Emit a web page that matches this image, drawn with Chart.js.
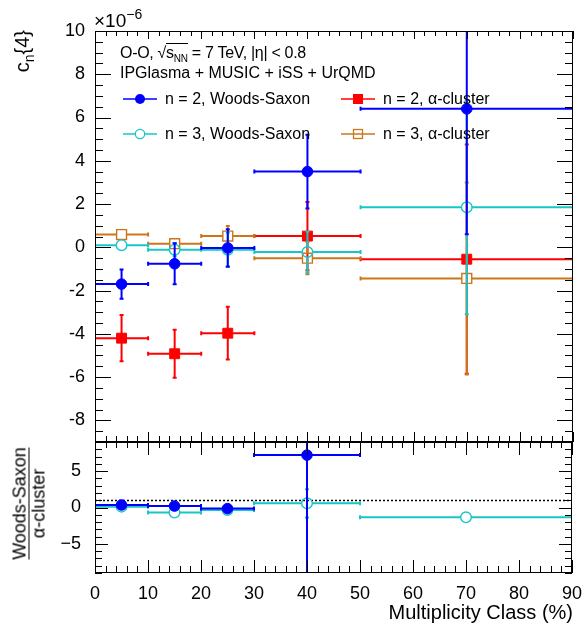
<!DOCTYPE html>
<html>
<head>
<meta charset="utf-8">
<title>cn{4} O-O</title>
<script src="https://cdn.jsdelivr.net/npm/chart.js@4.4.1/dist/chart.umd.min.js"></script>
<style>
  body { margin: 0; background: #fff; }
  #wrap { position: relative; width: 584px; height: 624px; font-family: "Liberation Sans", Arial, sans-serif; color: #000; }
  #wrap canvas { position: absolute; left: 0; top: 0; }
  .lbl { position: absolute; white-space: nowrap; font-size: 16px; line-height: 16px; }
  .mark { position: absolute; }
</style>
</head>
<body>
<div id="wrap">
  <canvas id="topChart" width="584" height="624"></canvas>
  <canvas id="ratioChart" width="584" height="624"></canvas>

  <div class="lbl" style="left:94px; top:11px; font-size:19px; line-height:19px;">×10<span style="font-size:14px; position:relative; top:-8px;">−6</span></div>

  <div class="lbl" style="left:120px; top:45px; letter-spacing:-0.3px;">O-O, √<span style="border-top:1px solid #000;">s<span style="font-size:10px; position:relative; top:4px;">NN</span></span> = 7 TeV, |η| &lt; 0.8</div>
  <div class="lbl" style="left:120px; top:65px;">IPGlasma + MUSIC + iSS + UrQMD</div>

  <svg class="mark" style="left:122px; top:93px;" width="36" height="12"><line x1="1" y1="6" x2="35" y2="6" stroke="#0000ff" stroke-width="1.5"/><circle cx="18" cy="6" r="5" fill="#0000ff"/></svg>
  <div class="lbl" style="left:165px; top:91px;">n = 2, Woods-Saxon</div>
  <svg class="mark" style="left:340px; top:93px;" width="36" height="12"><line x1="1" y1="6" x2="35" y2="6" stroke="#ff0000" stroke-width="1.5"/><rect x="13" y="1" width="10" height="10" fill="#ff0000"/></svg>
  <div class="lbl" style="left:383px; top:91px;">n = 2, α-cluster</div>

  <svg class="mark" style="left:122px; top:128px;" width="36" height="12"><line x1="1" y1="6" x2="35" y2="6" stroke="#19c6c6" stroke-width="1.5"/><circle cx="18" cy="6" r="4.7" fill="#fff" stroke="#19c6c6" stroke-width="1.3"/></svg>
  <div class="lbl" style="left:165px; top:126px;">n = 3, Woods-Saxon</div>
  <svg class="mark" style="left:340px; top:128px;" width="36" height="12"><line x1="1" y1="6" x2="35" y2="6" stroke="#cc761c" stroke-width="1.5"/><rect x="13.5" y="1.5" width="9" height="9" fill="none" stroke="#cc761c" stroke-width="1.3"/></svg>
  <div class="lbl" style="left:383px; top:126px;">n = 3, α-cluster</div>

  <div class="lbl" style="left:-8px; top:50px; width:60px; height:20px; font-size:20px; line-height:20px; text-align:right; transform:rotate(-90deg);">c<span style="font-size:14px; position:relative; top:5px;">n</span>{4}</div>

  <div style="position:absolute; left:-40.8px; top:484.5px; width:140px; height:37px; font-size:18px; line-height:18px; text-align:center; transform:rotate(-90deg); white-space:nowrap;">
    <div style="display:inline-block; border-bottom:1.5px solid #000; height:18px;">Woods-Saxon</div><br>
    <div style="display:inline-block; height:18px;">α-cluster</div>
  </div>

  <div class="lbl" style="left:0; top:602px; width:573px; text-align:right; font-size:20px; line-height:20px;">Multiplicity Class (%)</div>
</div>

<script>
Chart.defaults.font.family = '"Liberation Sans", Arial, sans-serif';
Chart.defaults.color = '#000';

// centrality bins (%)
var centres = [5, 15, 25, 40, 70];
var halfWidths = [5, 5, 5, 10, 20];

// cn{4}, in units of 1e-6
var n2WS = [-1.70, -0.76, -0.03, 3.50, 6.40];
var n2WSErr = [0.68, 0.95, 0.87, 1.70, 5.80];
var n2Alpha = [-4.20, -4.92, -3.97, 0.52, -0.55];
var n2AlphaErr = [1.07, 1.11, 1.22, 1.58, 5.30];
var n3WS = [0.10, -0.11, -0.11, -0.22, 1.85];
var n3WSErr = [0.10, 0.30, 0.78, 0.95, 4.95];
var n3Alpha = [0.59, 0.17, 0.52, -0.50, -1.44];
var n3AlphaErr = [0.05, 0.20, 0.47, 0.75, 4.44];

// Woods-Saxon / alpha-cluster
var ratioN2 = [0.35, 0.20, -0.15, 7.20, null];
var ratioN2Err = [0.20, 0.20, 0.20, 20.0, 0];
var ratioN3 = [0.12, -0.70, -0.34, 0.57, -1.35];
var ratioN3Err = [0.15, 0.20, 0.25, 1.95, 0];

var xTicks = [0, 10, 20, 30, 40, 50, 60, 70, 80, 90];
var topYTicks = [-8, -6, -4, -2, 0, 2, 4, 6, 8, 10];
var ratioYTicks = [-5, 0, 5];
var ratioRef = 1;

var blue = '#0000ff', red = '#ff0000', cyan = '#19c6c6', orange = '#cc761c';

function points(ys) {
    return centres.map(function(c, i) { return { x: c, y: ys[i] }; });
}

function series(label, ys, errs, color, style, open) {
    return {
        label: label,
        data: points(ys),
        errX: halfWidths,
        errY: errs,
        gap: open ? 5 : 0,
        pointStyle: style,
        pointRadius: style === 'rect' ? 7 : 5.3,
        pointBorderWidth: open ? 1.4 : 1,
        borderColor: color,
        pointBorderColor: color,
        pointBackgroundColor: open ? 'rgba(0,0,0,0)' : color,
        showLine: false
    };
}

// error bars of a dataset, drawn just before its markers
var errorBars = {
    id: 'errorBars',
    beforeDatasetDraw: function(chart, args) {
        var ds = chart.data.datasets[args.index];
        if (!ds.errY) return;
        var ctx = chart.ctx, a = chart.chartArea;
        var xs = chart.scales.x, ys = chart.scales.y;
        var gap = ds.gap;
        ctx.save();
        ctx.beginPath();
        ctx.rect(a.left, a.top, a.right - a.left, a.bottom - a.top);
        ctx.clip();
        ctx.strokeStyle = ds.borderColor;
        ctx.lineWidth = 2;
        ctx.beginPath();
        ds.data.forEach(function(p, i) {
            if (p.y === null) return;
            var px = xs.getPixelForValue(p.x), py = ys.getPixelForValue(p.y);
            var xl = xs.getPixelForValue(p.x - ds.errX[i]), xr = xs.getPixelForValue(p.x + ds.errX[i]);
            var yt = ys.getPixelForValue(p.y + ds.errY[i]), yb = ys.getPixelForValue(p.y - ds.errY[i]);
            ctx.moveTo(xl, py); ctx.lineTo(px - gap, py);
            ctx.moveTo(px + gap, py); ctx.lineTo(xr, py);
            ctx.moveTo(xl, py - 2); ctx.lineTo(xl, py + 2);
            ctx.moveTo(xr, py - 2); ctx.lineTo(xr, py + 2);
            if (ds.errY[i] > 0 && py - yt > gap) {
                ctx.moveTo(px, yt); ctx.lineTo(px, py - gap);
                ctx.moveTo(px, py + gap); ctx.lineTo(px, yb);
                ctx.moveTo(px - 2, yt); ctx.lineTo(px + 2, yt);
                ctx.moveTo(px - 2, yb); ctx.lineTo(px + 2, yb);
            }
        });
        ctx.stroke();
        ctx.restore();
    }
};

// ROOT style frame with inward ticks on four sides
var rootFrame = {
    id: 'rootFrame',
    beforeDatasetsDraw: function(chart, args, o) {
        if (o.refLine === undefined) return;
        var ctx = chart.ctx, a = chart.chartArea;
        var py = Math.round(chart.scales.y.getPixelForValue(o.refLine)) + 0.5;
        ctx.save();
        ctx.strokeStyle = '#000';
        ctx.lineWidth = 1.5;
        ctx.setLineDash([2, 2]);
        ctx.beginPath();
        ctx.moveTo(a.left, py); ctx.lineTo(a.right, py);
        ctx.stroke();
        ctx.restore();
    },
    afterDatasetsDraw: function(chart, args, o) {
        var ctx = chart.ctx, a = chart.chartArea;
        var xs = chart.scales.x, ys = chart.scales.y;
        ctx.save();
        ctx.strokeStyle = '#000';
        ctx.lineWidth = 1;
        ctx.beginPath();
        for (var v = xs.min; v <= xs.max + 1e-9; v += o.xMinor) {
            var px = Math.round(xs.getPixelForValue(v)) + 0.5;
            var major = Math.abs(v / o.xMajor - Math.round(v / o.xMajor)) < 1e-6;
            ctx.moveTo(px, a.bottom); ctx.lineTo(px, a.bottom - (major ? o.xBottom[0] : o.xBottom[1]));
            ctx.moveTo(px, a.top); ctx.lineTo(px, a.top + (major ? o.xTop[0] : o.xTop[1]));
        }
        for (var w = ys.min; w <= ys.max + 1e-9; w += o.yMinor) {
            var py = Math.round(ys.getPixelForValue(w)) + 0.5;
            var majorY = Math.abs(w / o.yMajor - Math.round(w / o.yMajor)) < 1e-6;
            var len = majorY ? o.yLen[0] : o.yLen[1];
            ctx.moveTo(a.left, py); ctx.lineTo(a.left + len, py);
            ctx.moveTo(a.right, py); ctx.lineTo(a.right - len, py);
        }
        ctx.stroke();
        ctx.strokeRect(Math.round(a.left) + 0.5, Math.round(a.top) + 0.5,
            Math.round(a.right - a.left) - 1, Math.round(a.bottom - a.top) - 1);
        ctx.restore();
    }
};

function fixedTicks(list) {
    return function(scale) {
        scale.ticks = list.map(function(v) { return { value: v }; });
    };
}

// Chart.js paints the last dataset first, so the order here is top to bottom
new Chart(document.getElementById('topChart'), {
    type: 'scatter',
    data: {
        datasets: [
            series('n = 2, Woods-Saxon', n2WS, n2WSErr, blue, 'circle', false),
            series('n = 3, Woods-Saxon', n3WS, n3WSErr, cyan, 'circle', true),
            series('n = 3, \u03b1-cluster', n3Alpha, n3AlphaErr, orange, 'rect', true),
            series('n = 2, \u03b1-cluster', n2Alpha, n2AlphaErr, red, 'rect', false)
        ]
    },
    options: {
        responsive: false,
        animation: false,
        events: [],
        layout: { padding: { left: 0, right: 11, top: 31, bottom: 182 } },
        plugins: {
            legend: { display: false },
            tooltip: { enabled: false },
            rootFrame: { xMinor: 2, xMajor: 10, xTop: [8, 5], xBottom: [10, 6], yMinor: 0.5, yMajor: 2, yLen: [16, 8] }
        },
        scales: {
            x: { type: 'linear', min: 0, max: 90, display: false },
            y: {
                type: 'linear', min: -9, max: 10, bounds: 'data',
                afterBuildTicks: fixedTicks(topYTicks),
                afterFit: function(s) { s.width = 95; },
                grid: { display: false },
                border: { display: false },
                ticks: { font: { size: 18 }, padding: 2, autoSkip: false, callback: function(v) { return String(v); } }
            }
        }
    },
    plugins: [errorBars, rootFrame]
});

new Chart(document.getElementById('ratioChart'), {
    type: 'scatter',
    data: {
        datasets: [
            series('n = 2', ratioN2, ratioN2Err, blue, 'circle', false),
            series('n = 3', ratioN3, ratioN3Err, cyan, 'circle', true)
        ]
    },
    options: {
        responsive: false,
        animation: false,
        events: [],
        layout: { padding: { left: 0, right: 11, top: 442, bottom: 0 } },
        plugins: {
            legend: { display: false },
            tooltip: { enabled: false },
            rootFrame: { refLine: ratioRef, xMinor: 2, xMajor: 10, xTop: [13, 6], xBottom: [13, 7], yMinor: 1, yMajor: 5, yLen: [13, 7] }
        },
        scales: {
            x: {
                type: 'linear', min: 0, max: 90, bounds: 'data',
                afterBuildTicks: fixedTicks(xTicks),
                afterFit: function(s) { s.height = 51; },
                grid: { display: false },
                border: { display: false },
                ticks: { font: { size: 18 }, padding: 2, autoSkip: false, maxRotation: 0 }
            },
            y: {
                type: 'linear', min: -9, max: 9, bounds: 'data',
                afterBuildTicks: fixedTicks(ratioYTicks),
                afterFit: function(s) { s.width = 95; },
                grid: { display: false },
                border: { display: false },
                ticks: { font: { size: 18 }, padding: 6, autoSkip: false,
                    callback: function(v) { return v < 0 ? '\u2212' + (-v) : String(v); } }
            }
        }
    },
    plugins: [errorBars, rootFrame]
});
</script>
</body>
</html>
